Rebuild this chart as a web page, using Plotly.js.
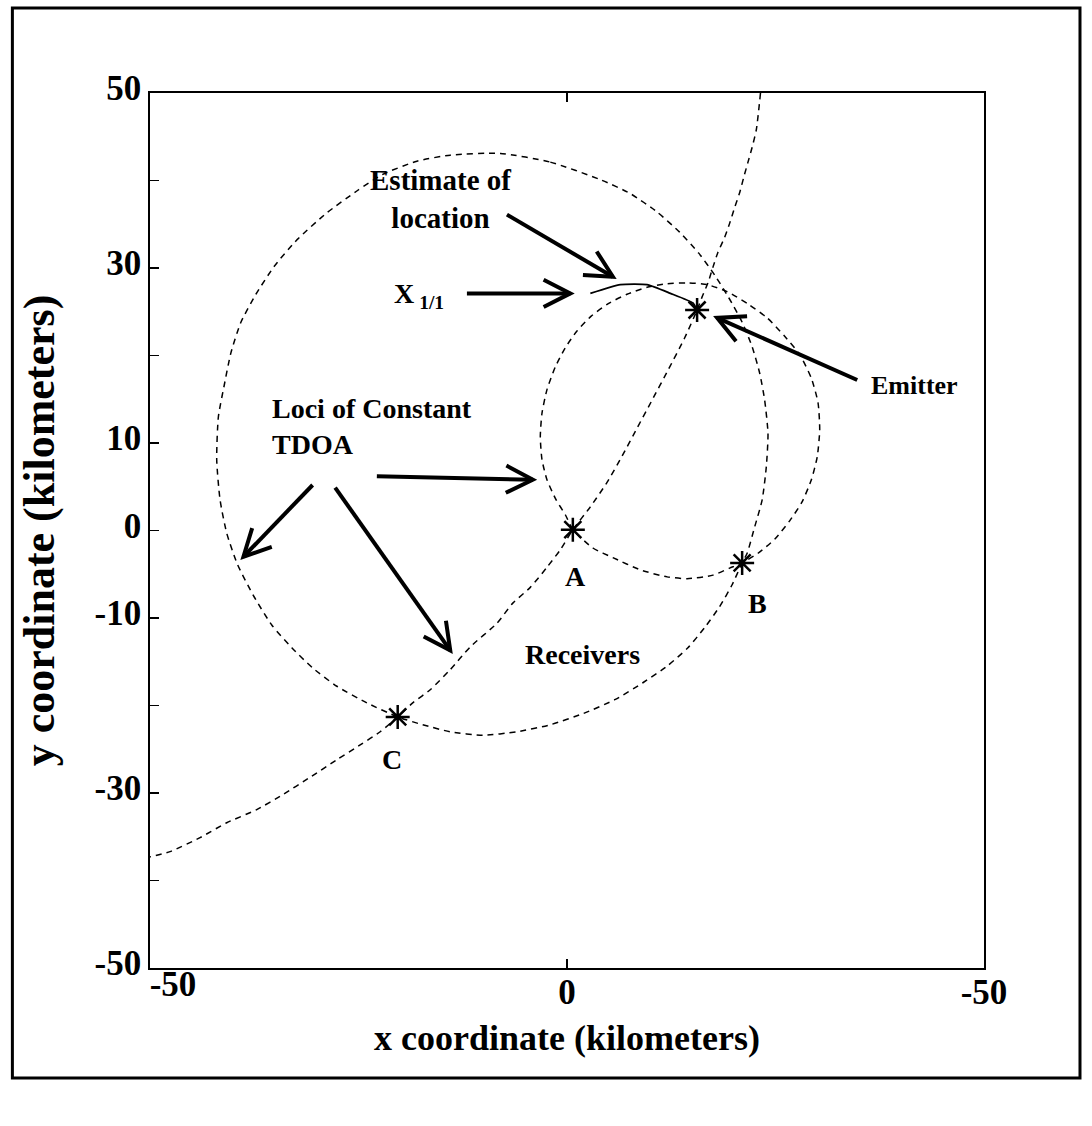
<!DOCTYPE html>
<html>
<head>
<meta charset="utf-8">
<script src="https://cdn.plot.ly/plotly-3.0.1.min.js"></script>
<style>
  html, body { margin: 0; padding: 0; background: #ffffff; }
  #chart { width: 1092px; height: 1126px; }
</style>
</head>
<body>
<div id="chart"></div>
<script>
// ---- Data (kilometers) ----
// Large closed locus of constant TDOA (through B and C)
const bigLocusX = [-8.0, -2.0, 4.0, 7.6, 10.8, 13.5, 15.8, 17.7, 19.4, 21.0, 22.2, 23.1, 23.7, 24.1, 23.9, 23.4, 22.5, 21.6, 21.0, 19.8, 18.3, 16.5, 14.5, 12.0, 9.1, 5.8, 2.0, -2.0, -6.0, -10.1, -14.0, -17.3, -20.3, -24.0, -27.6, -30.5, -33.0, -35.4, -37.5, -39.5, -40.8, -41.6, -42.0, -41.8, -41.1, -40.3, -39.1, -37.3, -35.1, -32.3, -28.8, -25.2, -22.1, -18.0, -14.0, -8.0];
const bigLocusY = [43.1, 42.1, 40.1, 38.5, 36.4, 34.1, 31.7, 29.2, 26.6, 23.8, 21.0, 18.0, 14.9, 11.1, 7.3, 3.5, 0.4, -2.6, -3.7, -6.2, -8.7, -11.1, -13.4, -15.5, -17.4, -19.3, -20.9, -22.2, -23.0, -23.4, -23.0, -22.2, -21.3, -19.7, -17.8, -15.7, -13.4, -10.8, -7.6, -3.9, -0.3, 3.5, 8.1, 13.0, 16.6, 20.3, 23.8, 27.0, 30.2, 33.3, 36.3, 38.8, 40.7, 42.2, 42.9, 43.1];

// Small closed locus (through A and B)
const smallLocusX = [0.7, 3.1, 5.5, 8.8, 12.0, 14.4, 17.5, 19.5, 21.0, 22.9, 24.9, 26.7, 28.2, 29.3, 30.0, 30.3, 30.1, 29.3, 27.9, 26.1, 24.0, 21.7, 19.2, 16.8, 14.4, 12.0, 9.6, 7.2, 4.9, 2.9, 1.2, -0.2, -1.4, -2.4, -3.0, -3.2, -3.0, -2.4, -1.3, -0.2, 0.7];
const smallLocusY = [0.1, -2.0, -3.1, -4.5, -5.3, -5.5, -5.1, -4.3, -3.7, -2.6, -1.0, 1.1, 3.3, 5.8, 8.4, 11.5, 14.6, 17.4, 20.1, 22.2, 24.3, 25.9, 27.3, 28.1, 28.3, 28.2, 27.8, 27.0, 25.9, 24.5, 22.8, 20.9, 18.7, 16.1, 13.4, 10.7, 8.1, 5.8, 3.5, 1.8, 0.1];

// Open locus (through emitter, A and C)
const openLocusX = [23.2, 22.7, 22.2, 21.7, 21.2, 20.7, 20.1, 19.5, 18.9, 18.1, 17.5, 16.9, 16.2, 15.6, 14.1, 12.1, 10.2, 8.4, 6.6, 4.8, 2.8, 0.7, -0.8, -2.4, -4.4, -6.5, -8.4, -11.6, -14.0, -16.4, -18.5, -20.3, -22.4, -24.8, -27.6, -30.8, -34.1, -37.2, -40.8, -44.0, -47.6, -50.0];
const openLocusY = [50.0, 45.8, 43.8, 42.1, 40.4, 38.6, 36.9, 35.1, 33.5, 31.8, 30.1, 28.3, 26.7, 25.2, 22.0, 18.3, 14.9, 11.7, 8.5, 5.5, 2.7, 0.1, -2.2, -4.2, -6.5, -8.3, -10.6, -13.3, -15.9, -18.2, -19.7, -21.3, -23.0, -24.5, -26.2, -28.2, -30.2, -31.9, -33.4, -35.1, -36.7, -37.3];

// Estimate-of-location track
const estimateX = [2.8, 6.4, 9.6, 12.4, 15.1, 15.6];
const estimateY = [27.1, 28.1, 28.1, 27.1, 26.0, 25.2];

// Receivers and emitter
const receiverNames = ['A', 'B', 'C'];
const receiverX = [0.7, 21.0, -20.3];
const receiverY = [0.1, -3.7, -21.3];
const emitterX = [15.6];
const emitterY = [25.2];

// Axis ticks
const xTickVals = [-50, 0, 50];
const xTickText = ['-50', '0', '-50'];
const yTickVals = [50, 30, 10, 0, -10, -30, -50];
const yTickText = ['50', '30', '10', '0', '-10', '-30', '-50'];
const yMinorTickVals = [40, 20, -20, -40];

// ---- Plot ----
const FONT = '"Liberation Serif", "Times New Roman", Times, serif';
const dashed = { color: '#000', width: 1.5, dash: '6px,5px', shape: 'spline', smoothing: 0.6 };
const star = { symbol: 'asterisk-open', size: 20, color: '#000', line: { color: '#000', width: 2.5 } };
const tickFont = { family: FONT, size: 35, color: '#000', weight: 'bold' };

const W = 1092, H = 1126;
const M = { l: 150, r: 108, t: 93, b: 158 };
const pxPerX = (W - M.l - M.r) / 100;   // pixels per km along x
const pxPerY = (H - M.t - M.b) / 100;   // pixels per km along y

const traces = [
  { x: bigLocusX, y: bigLocusY, mode: 'lines', line: dashed, hoverinfo: 'skip', name: 'locus 1' },
  { x: smallLocusX, y: smallLocusY, mode: 'lines', line: dashed, hoverinfo: 'skip', name: 'locus 2' },
  { x: openLocusX, y: openLocusY, mode: 'lines', line: dashed, hoverinfo: 'skip', name: 'locus 3' },
  { x: estimateX, y: estimateY, mode: 'lines', line: { color: '#000', width: 1.8, shape: 'spline', smoothing: 0.5 }, name: 'estimate' },
  { x: receiverX, y: receiverY, text: receiverNames, mode: 'markers', name: 'receivers', marker: star },
  { x: emitterX, y: emitterY, mode: 'markers', name: 'emitter', marker: star },
  // carrier for the overlay axis that holds the left-hand x tick label
  { x: [], y: [], xaxis: 'x2', yaxis: 'y', mode: 'markers', hoverinfo: 'skip', name: 'axis carrier' }
];

const txt = (x, y, text, size, extra) => Object.assign({
  x: x, y: y, xref: 'x', yref: 'y', text: '<b>' + text + '</b>', showarrow: false,
  font: { family: FONT, size: size, color: '#000' }
}, extra || {});

const annotations = [
  txt(-15.2, 37.9, 'Estimate of<br>location', 29),
  txt(-21.0, 26.9, 'X<sub> 1/1</sub>', 28, { xanchor: 'left' }),
  txt(41.7, 16.6, 'Emitter', 26),
  txt(-35.6, 11.9, 'Loci of Constant<br>TDOA', 28, { xanchor: 'left', align: 'left' }),
  txt(1.0, -5.3, 'A', 28),
  txt(22.9, -8.3, 'B', 28),
  txt(-21.0, -26.2, 'C', 28),
  txt(1.8, -14.2, 'Receivers', 28)
];

// pointer arrows: [tail x, tail y, head x, head y] in km
const pointers = [
  [-7.2, 36.1, 5.5, 29.0],
  [-12.0, 27.1, 0.4, 27.1],
  [34.8, 17.2, 18.0, 24.3],
  [-22.8, 6.2, -4.1, 5.8],
  [-30.5, 5.2, -38.8, -3.0],
  [-27.8, 4.9, -14.0, -13.7]
];
const HEAD_LEN = 30, HEAD_ANG = 27 * Math.PI / 180;
const arrowShapes = [];
pointers.forEach(([tx, ty, hx, hy]) => {
  const th = Math.atan2(-(hy - ty) * pxPerY, (hx - tx) * pxPerX);
  const arm = (s) => [hx - HEAD_LEN * Math.cos(th + s * HEAD_ANG) / pxPerX,
                      hy + HEAD_LEN * Math.sin(th + s * HEAD_ANG) / pxPerY];
  const a1 = arm(1), a2 = arm(-1);
  arrowShapes.push({ type: 'line', xref: 'x', yref: 'y', x0: tx, y0: ty, x1: hx, y1: hy,
                     line: { color: '#000', width: 4 } });
  arrowShapes.push({ type: 'path', xref: 'x', yref: 'y',
                     path: `M${a1[0]},${a1[1]} L${hx},${hy} L${a2[0]},${a2[1]}`,
                     line: { color: '#000', width: 4 }, fillcolor: 'rgba(0,0,0,0)' });
});

const layout = {
  width: W, height: H,
  margin: { l: M.l, r: M.r, t: M.t, b: M.b, pad: 0 },
  paper_bgcolor: '#fff', plot_bgcolor: '#fff',
  showlegend: false,
  font: { family: FONT, color: '#000' },
  xaxis: {
    range: [-50, 50], tickmode: 'array', tickvals: xTickVals.slice(1), ticktext: xTickText.slice(1),
    ticks: 'inside', ticklen: 9, tickwidth: 1.5, tickcolor: '#000', ticklabelstandoff: -8,
    showline: true, linecolor: '#000', linewidth: 1.8, mirror: 'ticks',
    showgrid: false, zeroline: false, fixedrange: true,
    tickfont: tickFont,
    title: { text: 'x coordinate (kilometers)', font: { family: FONT, size: 36, color: '#000', weight: 'bold' }, standoff: 14 }
  },
  // overlay axis: the left "-50" label sits a little inward of the corner in the reference
  xaxis2: {
    overlaying: 'x', anchor: 'y', side: 'bottom', matches: 'x',
    range: [-50, 50], tickmode: 'array', tickvals: xTickVals.slice(0, 1), ticktext: xTickText.slice(0, 1),
    ticks: '', ticklabelstandoff: -8, ticklabelshift: 23,
    showline: false, showgrid: false, zeroline: false, fixedrange: true,
    tickfont: tickFont
  },
  yaxis: {
    range: [-50, 50], tickmode: 'array', tickvals: yTickVals, ticktext: yTickText,
    ticks: 'inside', ticklen: 9, tickwidth: 1.5, tickcolor: '#000', ticklabelshift: -5,
    minor: { tickmode: 'array', tickvals: yMinorTickVals, ticks: 'inside', ticklen: 9, tickwidth: 1.5, tickcolor: '#000', showgrid: false },
    showline: true, linecolor: '#000', linewidth: 1.8, mirror: true,
    showgrid: false, zeroline: false, fixedrange: true,
    tickfont: tickFont,
    title: { text: 'y coordinate (kilometers)', font: { family: FONT, size: 44, color: '#000', weight: 'bold' }, standoff: 26 }
  },
  annotations: annotations,
  shapes: arrowShapes.concat([
    { type: 'rect', xref: 'paper', yref: 'paper', x0: -0.165, x1: 1.1151, y0: -0.1257, y1: 1.0971,
      line: { color: '#000', width: 3 }, fillcolor: 'rgba(0,0,0,0)', layer: 'above' }
  ])
};

Plotly.newPlot('chart', traces, layout, { staticPlot: true, displayModeBar: false });
</script>
</body>
</html>
